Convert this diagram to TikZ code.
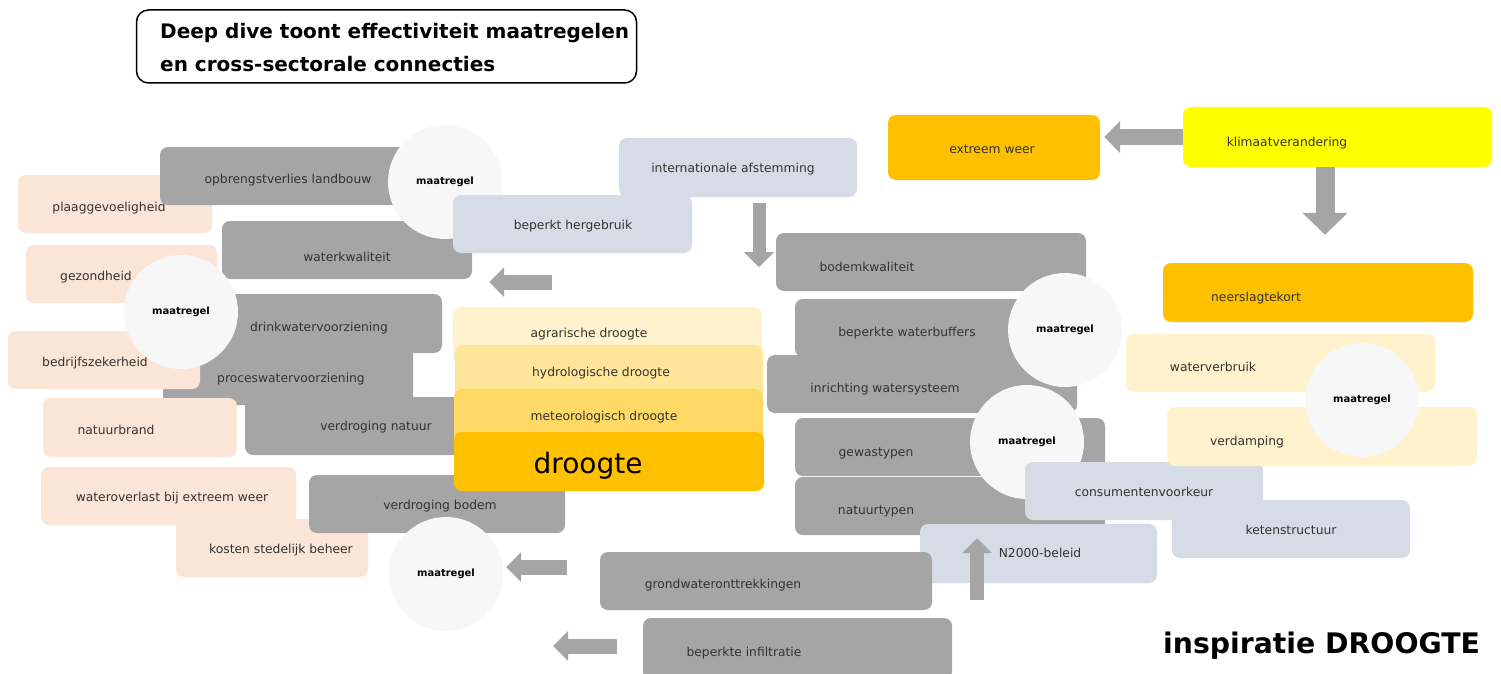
\documentclass[tikz,border=0pt]{standalone}
\usepackage{fontspec}
\setmainfont{DejaVu Sans}
\usepackage{tikz}
\usetikzlibrary{positioning, arrows.meta}
\usepackage{xcolor}

\definecolor{vakgrijs}{HTML}{A5A5A5}
\definecolor{perzik}{HTML}{FBE5D6}
\definecolor{blauwgrijs}{HTML}{D6DCE5}
\definecolor{cirkelwit}{HTML}{F7F7F7}
\definecolor{geel1}{HTML}{FFF2CC}
\definecolor{geel2}{HTML}{FFE699}
\definecolor{geel3}{HTML}{FFD966}
\definecolor{oranje}{HTML}{FFC000}
\definecolor{felgeel}{HTML}{FFFF00}
\definecolor{tekstkleur}{HTML}{333333}
\definecolor{pijlgrijs}{HTML}{A5A5A5}

\begin{document}
\begin{tikzpicture}[x=1pt, y=-1pt,
  blok/.style={rectangle, rounded corners=8pt, inner sep=0pt},
  grijsvak/.style={blok, fill=vakgrijs},
  perzikvak/.style={blok, fill=perzik},
  blauwvak/.style={blok, fill=blauwgrijs},
  tekst/.style={inner sep=0pt, text height=9pt, text depth=0pt, text=tekstkleur, font=\fontsize{12.3}{14}\selectfont},
  maatregel/.style={circle, fill=cirkelwit, minimum size=114pt, inner sep=0pt, font=\bfseries\fontsize{10}{12}\selectfont},
  pijl/.style={draw=pijlgrijs, line width=15pt, -{Triangle[length=15pt,width=29pt]}}
]
\fill[white] (0,0) rectangle (1501,674);
\useasboundingbox (0,0) rectangle (1501,674);

% gevolgen links boven
\node[perzikvak, minimum width=194pt, minimum height=58pt] (plaag) at (115,204) {};
\node[tekst] (plaag-t) at (109,207) {plaaggevoeligheid};
\node[grijsvak, minimum width=280pt, minimum height=58pt] (opbr) at (300,176) {};
\node[tekst] (opbr-t) at (288,179) {opbrengstverlies landbouw};
\node[grijsvak, minimum width=250pt, minimum height=58pt] (wkwal) at (347,250) {};
\node[tekst] (wkwal-t) at (347,257) {waterkwaliteit};
\node[maatregel] (c1) at (445,182) {maatregel};
\node[blauwvak, minimum width=238pt, minimum height=59pt] (intl) at (738,167.5) {};
\node[tekst] (intl-t) at (733,168) {internationale afstemming};
\node[blauwvak, minimum width=239pt, minimum height=58pt] (hergeb) at (572.5,224) {};
\node[tekst] (hergeb-t) at (573,225) {beperkt hergebruik};

% gevolgen links midden
\node[perzikvak, minimum width=191pt, minimum height=58pt] (gezond) at (121.5,274) {};
\node[tekst] (gezond-t) at (96,276) {gezondheid};
\node[grijsvak, minimum width=250pt, minimum height=58pt] (proces) at (288,376) {};
\node[tekst] (proces-t) at (291,378) {proceswatervoorziening};
\node[perzikvak, minimum width=192pt, minimum height=58pt] (bedrijf) at (104,360) {};
\node[tekst] (bedrijf-t) at (95,362) {bedrijfszekerheid};
\node[grijsvak, minimum width=242pt, minimum height=59pt] (drink) at (321,323.5) {};
\node[tekst] (drink-t) at (319,327) {drinkwatervoorziening};
\node[maatregel] (c2) at (181,312) {maatregel};
\node[grijsvak, minimum width=225pt, minimum height=58pt] (vnat) at (357.5,426) {};
\node[tekst] (vnat-t) at (376,426) {verdroging natuur};
\node[perzikvak, minimum width=194pt, minimum height=59pt] (brand) at (140,427.5) {};
\node[tekst] (brand-t) at (116,430) {natuurbrand};

% gevolgen links onder
\node[perzikvak, minimum width=192pt, minimum height=58pt] (kosten) at (272,548) {};
\node[tekst] (kosten-t) at (281,549) {kosten stedelijk beheer};
\node[perzikvak, minimum width=255pt, minimum height=58pt] (overlast) at (168.5,496) {};
\node[tekst] (overlast-t) at (172,497) {wateroverlast bij extreem weer};
\node[grijsvak, minimum width=256pt, minimum height=58pt] (vbodem) at (437,504) {};
\node[tekst] (vbodem-t) at (440,505) {verdroging bodem};
\node[maatregel] (c3) at (446,574) {maatregel};

% droogte
\node[blok, fill=geel1, minimum width=309pt, minimum height=58pt] (agr) at (607.5,336) {};
\node[tekst] (agr-t) at (589,333) {agrarische droogte};
\node[blok, fill=geel2, minimum width=308pt, minimum height=58pt] (hydro) at (609,374) {};
\node[tekst] (hydro-t) at (601,372) {hydrologische droogte};
\node[blok, fill=geel3, minimum width=309pt, minimum height=58pt] (meteo) at (608.5,418) {};
\node[tekst] (meteo-t) at (604,416) {meteorologisch droogte};
\node[blok, fill=oranje, minimum width=310pt, minimum height=59pt] (droogte) at (609,461.5) {};
\node[inner sep=0pt, anchor=base, font=\fontsize{28}{32}\selectfont] (droogte-t) at (588,473) {droogte};

% oorzaken rechts
\node[grijsvak, minimum width=310pt, minimum height=58pt] (bodem) at (931,262) {};
\node[tekst] (bodem-t) at (867,267) {bodemkwaliteit};
\node[grijsvak, minimum width=265pt, minimum height=58pt] (wbuf) at (927.5,328) {};
\node[tekst] (wbuf-t) at (907,332) {beperkte waterbuffers};
\node[grijsvak, minimum width=310pt, minimum height=58pt] (inricht) at (922,384) {};
\node[tekst] (inricht-t) at (885,388) {inrichting watersysteem};
\node[maatregel] (c4) at (1065,330) {maatregel};
\node[grijsvak, minimum width=310pt, minimum height=58pt] (gewas) at (950,447) {};
\node[tekst] (gewas-t) at (876,452) {gewastypen};
\node[grijsvak, minimum width=310pt, minimum height=58pt] (natty) at (950,506) {};
\node[tekst] (natty-t) at (876,510) {natuurtypen};
\node[maatregel] (c5) at (1027,442) {maatregel};
\node[blauwvak, minimum width=238pt, minimum height=58pt] (consu) at (1144,491) {};
\node[tekst] (consu-t) at (1144,492) {consumentenvoorkeur};
\node[blauwvak, minimum width=238pt, minimum height=58pt] (keten) at (1291,529) {};
\node[tekst] (keten-t) at (1291,530) {ketenstructuur};
\node[blauwvak, minimum width=237pt, minimum height=59pt] (natura) at (1038.5,553.5) {};
\node[tekst] (natura-t) at (1040,553) {N2000-beleid};
\node[grijsvak, minimum width=332pt, minimum height=58pt] (grondw) at (766,581) {};
\node[tekst] (grondw-t) at (723,584) {grondwateronttrekkingen};
\node[grijsvak, minimum width=309pt, minimum height=62pt] (infil) at (797.5,649) {};
\node[tekst] (infil-t) at (744,652) {beperkte infiltratie};

% klimaat
\node[blok, fill=oranje, minimum width=212pt, minimum height=65pt] (extreem) at (994,147.5) {};
\node[tekst] (extreem-t) at (992,149) {extreem weer};
\node[blok, fill=felgeel, minimum width=309pt, minimum height=60pt] (klimaat) at (1337.5,137) {};
\node[tekst] (klimaat-t) at (1287,142) {klimaatverandering};
\node[blok, fill=oranje, minimum width=310pt, minimum height=59pt] (neerslag) at (1318,292.5) {};
\node[tekst] (neerslag-t) at (1256,297) {neerslagtekort};
\node[blok, fill=geel1, minimum width=309pt, minimum height=58pt] (wverbr) at (1280.5,363) {};
\node[tekst] (wverbr-t) at (1213,367) {waterverbruik};
\node[blok, fill=geel1, minimum width=310pt, minimum height=59pt] (verdamp) at (1322,436.5) {};
\node[tekst] (verdamp-t) at (1247,441) {verdamping};
\node[maatregel] (c6) at (1362,400) {maatregel};

% pijlen
\draw[pijl, line width=16pt, -{Triangle[length=16pt,width=31pt]}, shorten >=4pt] (klimaat.west) -- (klimaat.west -| extreem.east);
\draw[pijl, line width=19pt, -{Triangle[length=22pt,width=44pt]}, shorten >=28pt] ([xshift=-12.5pt]klimaat.south) -- ([xshift=-12.5pt]klimaat.south |- neerslag.north);
\draw[pijl, line width=13pt] ([xshift=21pt, yshift=-6pt]intl.south) -- ++(0,64);
\coordinate (p4) at (552,282);
\draw[pijl, shorten >=17pt] (p4) -- (p4 -| wkwal.east);
\coordinate (p5) at (567,567);
\draw[pijl, shorten >=3pt] (p5) -- (p5 -| c3.east);
\coordinate (p6) at (617,646);
\draw[pijl] (p6) -- ++(-64,0);
\coordinate (p7) at (977,600);
\draw[pijl, line width=14pt, shorten >=3pt] (p7) -- (p7 |- natty.south);

% titels
\node[draw, rounded corners=12pt, line width=1.5pt, minimum width=500pt, minimum height=73pt] (titel) at (386.5,46.5) {};
\node[anchor=base west, inner sep=0pt, font=\bfseries\fontsize{20}{24}\selectfont] (titel1) at (160,39) {Deep dive toont effectiviteit maatregelen};
\node[anchor=base west, inner sep=0pt, font=\bfseries\fontsize{20}{24}\selectfont] (titel2) at (160,72) {en cross-sectorale connecties};
\node[anchor=base west, inner sep=0pt, font=\bfseries\fontsize{28.3}{32}\selectfont] (insp) at (1163,653) {inspiratie DROOGTE};
\end{tikzpicture}
\end{document}
